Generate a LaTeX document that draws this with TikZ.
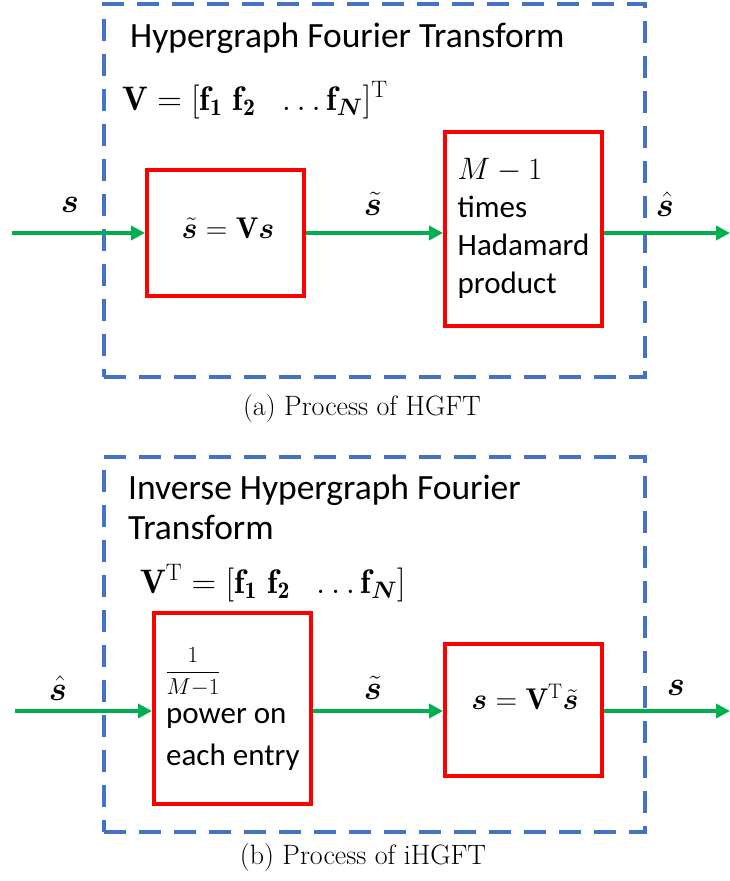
\RequirePackage{fix-cm}
\documentclass[tikz,border=0pt]{standalone}
\usepackage{amsmath}
\usepackage{bm}
\usepackage{fontspec}
\newfontfamily\calfont{Carlito}
\usetikzlibrary{arrows.meta}
\definecolor{panelblue}{RGB}{68,114,196}
\definecolor{boxred}{RGB}{255,0,0}
\definecolor{flowgreen}{RGB}{0,176,80}
\tikzset{
  panel/.style={draw=panelblue, line width=4pt, dash pattern=on 22pt off 13pt, inner sep=0pt},
  block/.style={draw=boxred, line width=4pt, inner sep=0pt, minimum width=157pt},
  flow/.style={draw=flowgreen, line width=4pt, -{Triangle[length=14pt,width=14pt]}},
  ttl/.style={inner sep=0pt, font=\calfont\fontsize{35.5}{40}\selectfont, align=left},
  btxt/.style={inner sep=0pt, font=\calfont\fontsize{31}{38}\selectfont, align=left},
  mth/.style={inner sep=0pt, font=\fontsize{34}{40}\selectfont},
  bmth/.style={inner sep=0pt, font=\fontsize{30}{36}\selectfont},
  lbl/.style={inner sep=0pt, font=\fontsize{34}{40}\selectfont},
  frac/.style={inner sep=0pt, font=\fontsize{23}{27}\selectfont},
  captxt/.style={inner sep=0pt, font=\fontsize{28}{32}\selectfont}
}
\begin{document}
\begin{tikzpicture}[x=1pt,y=-1pt]
\useasboundingbox (0,0) rectangle (730,881);
% ---------- panel (a)
\node[panel, minimum width=541pt, minimum height=373pt] (pa) at (374.5,190.5) {};
\node[ttl, anchor=west] (ta) at (130,38) {Hypergraph Fourier Transform};
\node[mth, anchor=base west] (fa) at (122,110) {$\mathbf{V}=[\mathbf{f}_{\mathbf{1}}\ \mathbf{f}_{\mathbf{2}}\ \ \ldots\mathbf{f}_{\bm{N}}]^{\mathrm{T}}$};
\node[block, minimum height=126pt] (b1) at (225.5,233) {};
\node[bmth] (t1) at (228,228) {$\bm{\tilde{s}}=\mathbf{V}\bm{s}$};
\node[block, minimum height=194pt] (b2) at (523.5,229) {};
\node[btxt] (t2) at (523.5,228) {$M-1$\\times\\Hadamard\\product};
\coordinate (ina) at (12,233);
\coordinate (outa) at (730,233);
\draw[flow] (ina) -- (b1.west);
\draw[flow] (b1.east) -- (b1.east -| b2.west);
\draw[flow] (b2.east |- outa) -- (outa);
\node[lbl] (la1) at (70,205) {$\bm{s}$};
\node[lbl] (la2) at (373,204) {$\bm{\tilde{s}}$};
\node[lbl] (la3) at (665,204) {$\bm{\hat{s}}$};
\node[captxt] (ca) at (362,409) {(a) Process of HGFT};
% ---------- panel (b)
\node[panel, minimum width=541pt, minimum height=375pt] (pb) at (374.5,644.5) {};
\node[ttl, anchor=north west] (tb) at (128,475) {Inverse Hypergraph Fourier\\Transform};
\node[mth, anchor=base west] (fb) at (140,593) {$\mathbf{V}^{\mathrm{T}}=[\mathbf{f}_{\mathbf{1}}\ \mathbf{f}_{\mathbf{2}}\ \ \ldots\mathbf{f}_{\bm{N}}]$};
\node[block, minimum height=191pt] (b3) at (232.5,708.5) {};
\node[frac] (t3a) at (193,672) {$\displaystyle\frac{1}{M{-}1}$};
\node[btxt, anchor=base west] (t3b) at (166,723) {power on};
\node[btxt, anchor=base west] (t3c) at (166,765) {each entry};
\node[block, minimum height=132pt] (b4) at (523.5,710) {};
\node[bmth] (t4) at (525,697) {$\bm{s}=\mathbf{V}^{\mathrm{T}}\bm{\tilde{s}}$};
\coordinate (inb) at (15,711);
\coordinate (outb) at (730,711);
\draw[flow] (inb) -- (inb -| b3.west);
\draw[flow] (b3.east |- inb) -- (b4.west |- inb);
\draw[flow] (b4.east |- outb) -- (outb);
\node[lbl] (lb1) at (58,688) {$\bm{\hat{s}}$};
\node[lbl] (lb2) at (373,688) {$\bm{\tilde{s}}$};
\node[lbl] (lb3) at (676,688) {$\bm{s}$};
\node[captxt] (cb) at (363,858) {(b) Process of iHGFT};
\end{tikzpicture}
\end{document}
